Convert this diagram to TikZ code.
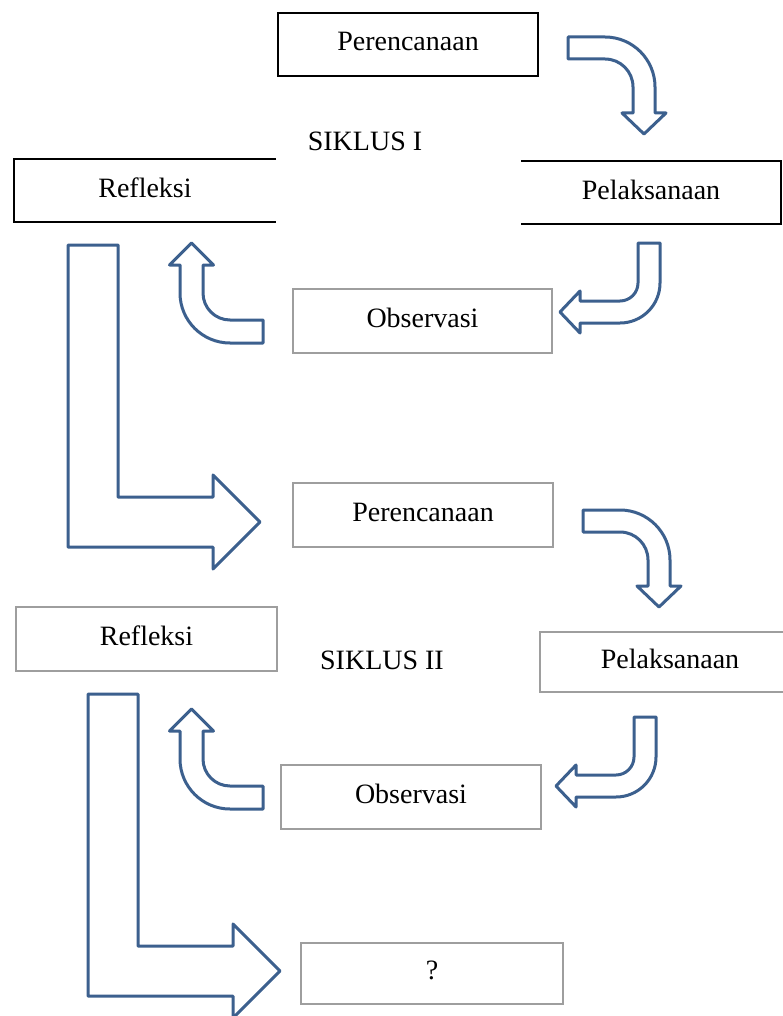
\documentclass[tikz,border=0pt]{standalone}
\usepackage{fontspec}
\setmainfont{Liberation Serif}
\definecolor{arrowblue}{RGB}{60,96,142}
\tikzstyle{phase} = [minimum width=130pt, minimum height=31.5pt, inner sep=0pt, outer sep=0pt, text depth=0.3em, font=\fontsize{14}{16}\selectfont]
\tikzstyle{darkbox} = [draw=black, line width=1pt]
\tikzstyle{greybox} = [draw=black!38, line width=1pt]
\tikzstyle{openbox} = [black, line width=1pt]
\tikzstyle{cycletitle} = [font=\fontsize{14}{16}\selectfont]
\tikzstyle{blockarrow} = [draw=arrowblue, line width=1.5pt, line join=round, fill=white]

\begin{document}
\begin{tikzpicture}[x=0.5pt, y=-0.5pt]
    \path[use as bounding box, fill=white] (0,0) rectangle (782,1016);

    % siklus I
    \node[phase, darkbox] (per_a) at (408,44.5) {Perencanaan};
    \node[phase, minimum width=131pt] (ref_a) at (145,190.5) {Refleksi};
    \node[phase] (pel_a) at (651,192.5) {Pelaksanaan};
    \node[phase, greybox, minimum width=129.5pt, minimum height=32pt] (obs_a) at (422.5,321) {Observasi};
    \node[cycletitle] (siklus_a) at (365,141) {SIKLUS I};
    \draw[openbox] (ref_a.north east) -- (ref_a.north west) -- (ref_a.south west) -- (ref_a.south east);
    \draw[openbox] (pel_a.north west) -- (pel_a.north east) -- (pel_a.south east) -- (pel_a.south west);

    % siklus II
    \node[phase, greybox, minimum height=32pt] (per_b) at (423,515) {Perencanaan};
    \node[phase, greybox, minimum width=130.5pt, minimum height=32pt] (ref_b) at (146.5,639) {Refleksi};
    \node[phase, greybox, minimum height=30pt] (pel_b) at (670,662) {Pelaksanaan};
    \node[phase, greybox, minimum height=32pt] (obs_b) at (411,797) {Observasi};
    \node[phase, greybox, minimum width=131pt, minimum height=30.5pt] (next) at (432,973.5) {?};
    \node[cycletitle] (siklus_b) at (382,660) {SIKLUS II};

    % right, then down
    \foreach \sx/\sy in {0/0, 15/473}
        \draw[blockarrow, shift={(\sx,\sy)}] (568,37) -- (605,37)
            .. controls (632.6,37) and (655,59.4) .. (655,87) -- (655,113) -- (666,113)
            -- (644,134) -- (622,113) -- (633,113) -- (633,87)
            .. controls (633,71.5) and (620.5,59) .. (605,59) -- (568,59) -- cycle;

    % down, then left
    \foreach \sx/\sy in {0/0, -4/474}
        \draw[blockarrow, shift={(\sx,\sy)}] (638,243) -- (660,243) -- (660,283)
            .. controls (660,305.1) and (642.1,323) .. (620,323) -- (580,323) -- (580,333)
            -- (560,312) -- (580,291) -- (580,301) -- (620,301)
            .. controls (629.9,301) and (638,292.9) .. (638,283) -- cycle;

    % left, then up
    \foreach \sx/\sy in {0/0, 0/466}
        \draw[blockarrow, shift={(\sx,\sy)}] (263,320) -- (263,343) -- (230,343)
            .. controls (202.4,343) and (180,320.6) .. (180,293) -- (180,265) -- (169.5,265)
            -- (191.5,243) -- (213.5,265) -- (203,265) -- (203,293)
            .. controls (203,307.9) and (215.1,320) .. (230,320) -- cycle;

    % big L to the next cycle
    \foreach \sx/\sy in {0/0, 20/449}
        \draw[blockarrow, shift={(\sx,\sy)}] (68,245) -- (118,245) -- (118,497) -- (213,497)
            -- (213,475) -- (260,522) -- (213,569) -- (213,547) -- (68,547) -- cycle;
\end{tikzpicture}
\end{document}
